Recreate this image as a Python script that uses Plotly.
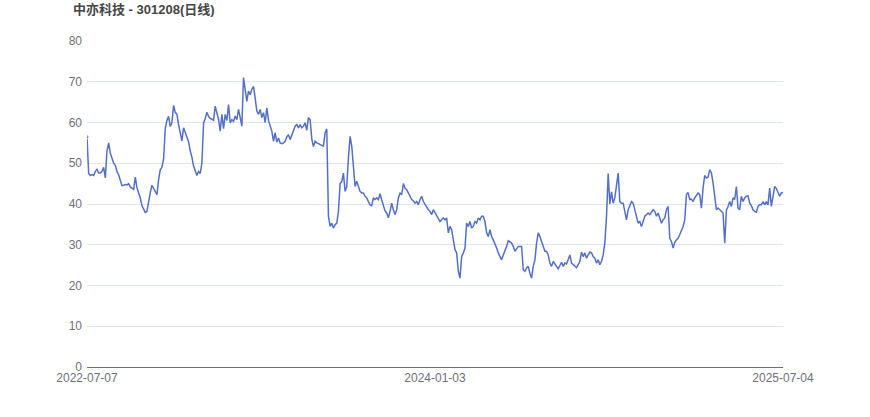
import plotly.graph_objects as go

title_text = "中亦科技 - 301208(日线)"
tick_labels = ["2022-07-07", "2024-01-03", "2025-07-04"]

close_part1 = [56.5, 47.5, 47.0, 47.2, 47.0, 48.0, 48.5, 47.6, 47.6, 48.0, 49.0, 46.4, 53.0, 55.0, 52.5, 51.2,
               50.0, 49.5, 48.0, 47.2, 46.0, 44.5, 44.6, 44.8, 44.7, 45.0, 44.2, 43.8, 43.6, 46.6, 44.0, 42.7,
               41.5, 39.6, 38.5, 37.9, 38.2, 40.8, 42.8, 44.6, 43.8, 43.2, 42.3, 46.0, 48.4, 49.0, 51.0, 58.5,
               60.5, 61.5, 59.0, 60.0, 64.2, 62.5, 62.0, 59.5, 57.0, 55.5, 58.7, 57.5, 56.0, 55.3, 53.0, 51.5, 49.3]
close_part2 = [47.8, 47.0, 48.0, 47.5, 50.0, 59.9, 61.0, 62.5, 61.5, 61.0, 60.8, 60.5, 64.0, 62.4, 60.8, 57.9,
               62.0, 58.5, 62.0, 60.5, 64.4, 59.9, 60.7, 60.3, 61.6, 60.7, 63.2, 61.2, 59.1, 71.0, 67.3, 65.2,
               67.7, 66.8, 68.1, 68.9, 66.0, 62.8, 62.0, 63.2, 61.2, 62.4, 60.0, 63.6, 60.5, 59.1, 57.9, 55.4,
               57.5, 55.2, 56.2, 55.0, 54.8, 55.0, 55.4, 56.5, 57.0, 55.8, 57.0, 58.0, 59.1, 59.5, 58.7, 59.5,
               58.7, 59.1, 59.9, 58.1, 61.2]
close_part3 = [60.7, 56.0, 54.1, 55.4, 55.0, 54.8, 54.6, 54.3, 54.2, 57.5, 58.4, 37.0, 34.5, 35.3, 34.1, 34.9,
               35.3, 38.2, 45.0, 45.5, 47.6, 43.1, 44.3, 51.3, 56.6, 54.2, 48.4, 44.3, 45.6, 44.0, 43.1, 42.7,
               42.7, 41.9, 41.5, 40.6, 39.8, 39.6, 41.5, 41.1, 41.5, 41.1, 42.5, 41.0, 39.6, 38.3, 37.8, 36.6,
               38.2, 40.2, 38.6, 37.4, 38.6, 41.5, 42.7, 42.3, 45.0, 43.9, 43.5, 42.7, 42.3, 41.1, 40.8, 40.2,
               40.6, 39.8, 41.1, 41.9, 40.6]
close_part4 = [39.8, 39.4, 38.6, 38.2, 37.4, 38.6, 37.8, 37.0, 36.6, 35.7, 36.1, 36.6, 36.1, 36.6, 32.9, 34.5,
               33.7, 31.2, 28.8, 28.0, 23.5, 21.8, 27.1, 28.0, 29.2, 35.3, 34.5, 35.7, 34.1, 34.5, 35.7, 35.3,
               36.6, 36.1, 37.0, 37.0, 35.7, 33.0, 32.0, 33.7, 32.0, 31.2, 30.4, 29.2, 28.0, 27.1, 26.3, 27.5,
               28.4, 29.6, 31.0, 30.8, 30.4, 29.6, 28.4, 29.0, 29.6, 29.6, 29.6, 23.9, 23.5, 24.3, 24.7, 23.0,
               21.8, 24.7, 26.3, 30.4, 32.9]
close_part5 = [32.0, 30.8, 29.6, 28.4, 28.4, 27.5, 25.5, 24.7, 25.9, 25.1, 24.7, 24.1, 25.1, 25.7, 24.7, 25.5,
               25.3, 26.3, 27.5, 25.5, 25.1, 24.8, 24.4, 25.1, 25.9, 28.2, 27.1, 28.0, 26.7, 27.5, 28.2, 28.0,
               27.1, 26.7, 25.5, 26.3, 25.1, 25.9, 27.5, 30.4, 36.9, 47.5, 40.0, 43.0, 40.2, 41.5, 45.2, 47.6,
               40.6, 40.2, 40.2, 38.2, 36.1, 38.6, 39.4, 40.6, 40.2, 38.6, 36.6, 35.3, 35.7, 34.5, 35.7, 37.0,
               37.4, 37.8, 37.4, 38.2, 38.6]
close_part6 = [38.2, 37.0, 37.8, 36.6, 35.3, 36.1, 36.6, 38.6, 39.4, 31.6, 30.8, 29.2, 30.6, 31.2, 31.6, 32.5,
               33.3, 34.5, 36.1, 42.3, 42.8, 41.1, 41.2, 40.6, 41.5, 42.0, 42.7, 42.3, 39.0, 44.0, 47.0, 46.4,
               46.6, 48.4, 47.6, 45.2, 41.9, 38.6, 39.0, 38.6, 38.2, 37.8, 30.4, 38.5, 39.4, 40.6, 39.4, 41.5,
               41.1, 44.3, 39.0, 38.6, 41.9, 40.6, 41.5, 41.9, 42.0, 40.2, 39.6, 38.6, 38.2, 38.0, 39.4, 39.8,
               39.8, 40.6, 39.8, 40.6, 39.8, 43.9, 39.4, 42.3, 44.3, 43.8, 42.7, 41.9, 42.7, 42.8]

close = close_part1 + close_part2 + close_part3 + close_part4 + close_part5 + close_part6
n = len(close)
idx = list(range(n))
tick_pos = [0, n // 2, n - 1]

font_family = "Liberation Sans, Arial, Noto Sans CJK SC, sans-serif"

fig = go.Figure()
fig.add_trace(go.Scatter(
    x=idx, y=close, mode="lines+markers",
    line=dict(color="#5470C6", width=1.5),
    marker=dict(size=[4] + [0] * (n - 1), color="#5470C6"),
    hoverinfo="skip", showlegend=False,
))

fig.update_layout(
    width=870, height=417,
    margin=dict(l=87, r=87, t=41, b=50),
    paper_bgcolor="white", plot_bgcolor="white",
    font=dict(family=font_family, size=12, color="#6E7079"),
    title=dict(
        text="<b>" + title_text + "</b>",
        xref="container", yref="container",
        x=73 / 870, y=1 - 9 / 417, xanchor="left", yanchor="middle",
        font=dict(family=font_family, size=13, color="#464646"),
    ),
)
fig.update_xaxes(
    range=[0, n - 1], tickvals=tick_pos, ticktext=tick_labels,
    showgrid=False, zeroline=False, showline=True, linecolor="#6E7079", linewidth=1,
    ticks="", tickfont=dict(size=12, color="#6E7079"),
)
fig.update_yaxes(
    range=[0, 80], dtick=10, showgrid=True, gridcolor="#E0E6F1", gridwidth=1,
    zeroline=False, showline=False, ticks="", ticklabelstandoff=4,
    tickfont=dict(size=12, color="#6E7079"),
)

fig.write_html("out.html", config={"displayModeBar": False},
               post_script="document.body.style.margin='0';")
